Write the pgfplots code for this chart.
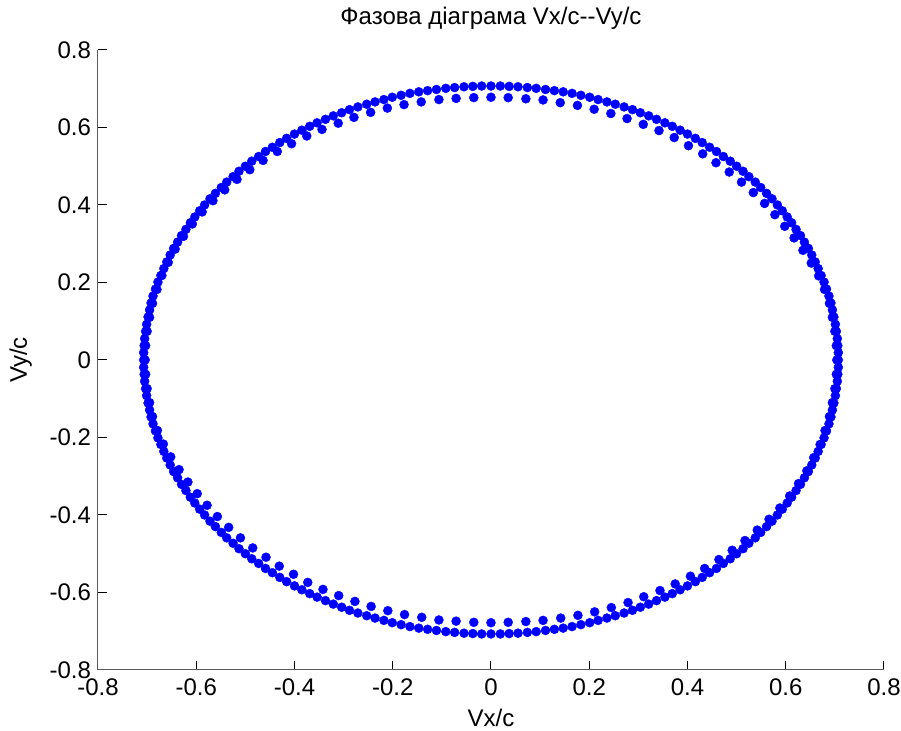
\documentclass[border=0pt]{standalone}
\usepackage{fontspec}
\setmainfont{Liberation Sans}
\usepackage{pgfplots}
\pgfplotsset{compat=1.18}
\begin{document}
\begin{tikzpicture}
\begin{axis}[
  scale only axis, width=393pt, height=310pt,
  xmin=-0.8, xmax=0.8, ymin=-0.8, ymax=0.8,
  axis x line*=bottom, axis y line*=left,
  xtick={-0.8,-0.6,-0.4,-0.2,0,0.2,0.4,0.6,0.8},
  ytick={-0.8,-0.6,-0.4,-0.2,0,0.2,0.4,0.6,0.8},
  xticklabels={-0.8,-0.6,-0.4,-0.2,0,0.2,0.4,0.6,0.8},
  yticklabels={-0.8,-0.6,-0.4,-0.2,0,0.2,0.4,0.6,0.8},
  tick align=inside,
  major tick length=4.5pt,
  tick style={black, line width=0.5pt},
  axis line style={black!65, line width=0.5pt},
  tick label style={font=\fontsize{12}{14}\selectfont},
  xticklabel style={yshift=-1pt},
  title={Фазова діаграма Vx/c-{}-Vy/c},
  title style={at={([yshift=6.5pt]axis description cs:0.5,1)}, anchor=base, font=\fontsize{12}{14}\selectfont},
  xlabel={Vx/c}, ylabel={Vy/c},
  xlabel style={at={([yshift=-28.5pt]axis description cs:0.5,0)}, anchor=base, font=\fontsize{12}{14}\selectfont},
  ylabel style={at={([xshift=-35.5pt]axis description cs:0,0.5)}, anchor=base, font=\fontsize{12}{14}\selectfont},
  clip=false,
]
\addplot[only marks, mark=*, mark size=2.25pt, mark options={draw=blue, fill=blue, line width=0.2pt}] coordinates {
(0.707,0.000) (0.707,0.019) (0.706,0.037) (0.705,0.055) (0.703,0.074) (0.701,0.092) (0.698,0.111) (0.695,0.129) (0.692,0.147) (0.688,0.165) (0.683,0.183) (0.678,0.201) (0.672,0.218) (0.666,0.236) (0.660,0.253) (0.653,0.271) (0.646,0.288) (0.638,0.304) (0.630,0.321) (0.621,0.337) (0.612,0.354) (0.603,0.369) (0.593,0.385) (0.583,0.400) (0.572,0.416) (0.561,0.430) (0.549,0.445) (0.538,0.459) (0.525,0.473) (0.513,0.487) (0.500,0.500) (0.487,0.513) (0.473,0.525) (0.459,0.538) (0.445,0.549) (0.430,0.561) (0.416,0.572) (0.400,0.583) (0.385,0.593) (0.369,0.603) (0.354,0.612) (0.337,0.621) (0.321,0.630) (0.304,0.638) (0.288,0.646) (0.271,0.653) (0.253,0.660) (0.236,0.666) (0.218,0.672) (0.201,0.678) (0.183,0.683) (0.165,0.688) (0.147,0.692) (0.129,0.695) (0.111,0.698) (0.092,0.701) (0.074,0.703) (0.055,0.705) (0.037,0.706) (0.019,0.707)
(0.000,0.707) (-0.019,0.707) (-0.037,0.706) (-0.055,0.705) (-0.074,0.703) (-0.092,0.701) (-0.111,0.698) (-0.129,0.695) (-0.147,0.692) (-0.165,0.688) (-0.183,0.683) (-0.201,0.678) (-0.218,0.672) (-0.236,0.666) (-0.253,0.660) (-0.271,0.653) (-0.288,0.646) (-0.304,0.638) (-0.321,0.630) (-0.337,0.621) (-0.354,0.612) (-0.369,0.603) (-0.385,0.593) (-0.400,0.583) (-0.416,0.572) (-0.430,0.561) (-0.445,0.549) (-0.459,0.538) (-0.473,0.525) (-0.487,0.513) (-0.500,0.500) (-0.513,0.487) (-0.525,0.473) (-0.538,0.459) (-0.549,0.445) (-0.561,0.430) (-0.572,0.416) (-0.583,0.400) (-0.593,0.385) (-0.603,0.369) (-0.612,0.354) (-0.621,0.337) (-0.630,0.321) (-0.638,0.304) (-0.646,0.288) (-0.653,0.271) (-0.660,0.253) (-0.666,0.236) (-0.672,0.218) (-0.678,0.201) (-0.683,0.183) (-0.688,0.165) (-0.692,0.147) (-0.695,0.129) (-0.698,0.111) (-0.701,0.092) (-0.703,0.074) (-0.705,0.055) (-0.706,0.037) (-0.707,0.019)
(-0.707,0.000) (-0.707,-0.019) (-0.706,-0.037) (-0.705,-0.055) (-0.703,-0.074) (-0.701,-0.092) (-0.698,-0.111) (-0.695,-0.129) (-0.692,-0.147) (-0.688,-0.165) (-0.683,-0.183) (-0.678,-0.201) (-0.672,-0.218) (-0.666,-0.236) (-0.660,-0.253) (-0.653,-0.271) (-0.646,-0.288) (-0.638,-0.304) (-0.630,-0.321) (-0.621,-0.337) (-0.612,-0.354) (-0.603,-0.369) (-0.593,-0.385) (-0.583,-0.400) (-0.572,-0.416) (-0.561,-0.430) (-0.549,-0.445) (-0.538,-0.459) (-0.525,-0.473) (-0.513,-0.487) (-0.500,-0.500) (-0.487,-0.513) (-0.473,-0.525) (-0.459,-0.538) (-0.445,-0.549) (-0.430,-0.561) (-0.416,-0.572) (-0.400,-0.583) (-0.385,-0.593) (-0.369,-0.603) (-0.354,-0.612) (-0.337,-0.621) (-0.321,-0.630) (-0.304,-0.638) (-0.288,-0.646) (-0.271,-0.653) (-0.253,-0.660) (-0.236,-0.666) (-0.218,-0.672) (-0.201,-0.678) (-0.183,-0.683) (-0.165,-0.688) (-0.147,-0.692) (-0.129,-0.695) (-0.111,-0.698) (-0.092,-0.701) (-0.074,-0.703) (-0.055,-0.705) (-0.037,-0.706) (-0.019,-0.707)
(0.000,-0.707) (0.019,-0.707) (0.037,-0.706) (0.055,-0.705) (0.074,-0.703) (0.092,-0.701) (0.111,-0.698) (0.129,-0.695) (0.147,-0.692) (0.165,-0.688) (0.183,-0.683) (0.201,-0.678) (0.218,-0.672) (0.236,-0.666) (0.253,-0.660) (0.271,-0.653) (0.288,-0.646) (0.304,-0.638) (0.321,-0.630) (0.337,-0.621) (0.354,-0.612) (0.369,-0.603) (0.385,-0.593) (0.400,-0.583) (0.416,-0.572) (0.430,-0.561) (0.445,-0.549) (0.459,-0.538) (0.473,-0.525) (0.487,-0.513) (0.500,-0.500) (0.513,-0.487) (0.525,-0.473) (0.538,-0.459) (0.549,-0.445) (0.561,-0.430) (0.572,-0.416) (0.583,-0.400) (0.593,-0.385) (0.603,-0.369) (0.612,-0.354) (0.621,-0.337) (0.630,-0.321) (0.638,-0.304) (0.646,-0.288) (0.653,-0.271) (0.660,-0.253) (0.666,-0.236) (0.672,-0.218) (0.678,-0.201) (0.683,-0.183) (0.688,-0.165) (0.692,-0.147) (0.695,-0.129) (0.698,-0.111) (0.701,-0.092) (0.703,-0.074) (0.705,-0.055) (0.706,-0.037) (0.707,-0.019)
};
\addplot[only marks, mark=*, mark size=2.25pt, mark options={draw=blue, fill=blue, line width=0.2pt}] coordinates {
(0.704,0.000) (0.703,0.037) (0.700,0.074) (0.695,0.110) (0.689,0.146) (0.679,0.182) (0.667,0.217) (0.652,0.250) (0.635,0.283) (0.617,0.315) (0.598,0.345) (0.578,0.375) (0.557,0.404) (0.534,0.432) (0.510,0.459) (0.485,0.485) (0.458,0.509) (0.431,0.532) (0.402,0.553) (0.373,0.574) (0.342,0.592) (0.310,0.608) (0.277,0.623) (0.244,0.636) (0.210,0.647) (0.176,0.657) (0.141,0.664) (0.106,0.671) (0.071,0.674) (0.035,0.677)
(0.000,0.678) (-0.035,0.677) (-0.071,0.675) (-0.106,0.672) (-0.142,0.666) (-0.177,0.659) (-0.211,0.650) (-0.245,0.639) (-0.279,0.626) (-0.311,0.611) (-0.344,0.595) (-0.375,0.578) (-0.406,0.558) (-0.435,0.538) (-0.464,0.515) (-0.491,0.491) (-0.517,0.466) (-0.542,0.439) (-0.566,0.411) (-0.588,0.382) (-0.608,0.351) (-0.626,0.319) (-0.643,0.286) (-0.657,0.252) (-0.670,0.218) (-0.680,0.182) (-0.689,0.146) (-0.695,0.110) (-0.700,0.074) (-0.703,0.037)
(-0.704,0.000) (-0.703,-0.037) (-0.700,-0.074) (-0.695,-0.110) (-0.689,-0.146) (-0.679,-0.182) (-0.667,-0.217) (-0.652,-0.250) (-0.635,-0.283) (-0.617,-0.315) (-0.598,-0.345) (-0.578,-0.375) (-0.557,-0.404) (-0.534,-0.432) (-0.510,-0.459) (-0.485,-0.485) (-0.458,-0.509) (-0.431,-0.532) (-0.402,-0.553) (-0.373,-0.574) (-0.342,-0.592) (-0.310,-0.608) (-0.277,-0.623) (-0.244,-0.636) (-0.210,-0.647) (-0.176,-0.657) (-0.141,-0.664) (-0.106,-0.671) (-0.071,-0.674) (-0.035,-0.677)
(0.000,-0.678) (0.035,-0.677) (0.071,-0.675) (0.106,-0.672) (0.142,-0.666) (0.177,-0.659) (0.211,-0.650) (0.245,-0.639) (0.279,-0.626) (0.311,-0.611) (0.344,-0.595) (0.375,-0.578) (0.406,-0.558) (0.435,-0.538) (0.464,-0.515) (0.491,-0.491) (0.517,-0.466) (0.542,-0.439) (0.566,-0.411) (0.588,-0.382) (0.608,-0.351) (0.626,-0.319) (0.643,-0.286) (0.657,-0.252) (0.670,-0.218) (0.680,-0.182) (0.689,-0.146) (0.695,-0.110) (0.700,-0.074) (0.703,-0.037)
};
\end{axis}
\pgfresetboundingbox
\path (-49pt,-30.5pt) rectangle (401.5pt,335pt);
\end{tikzpicture}
\end{document}
